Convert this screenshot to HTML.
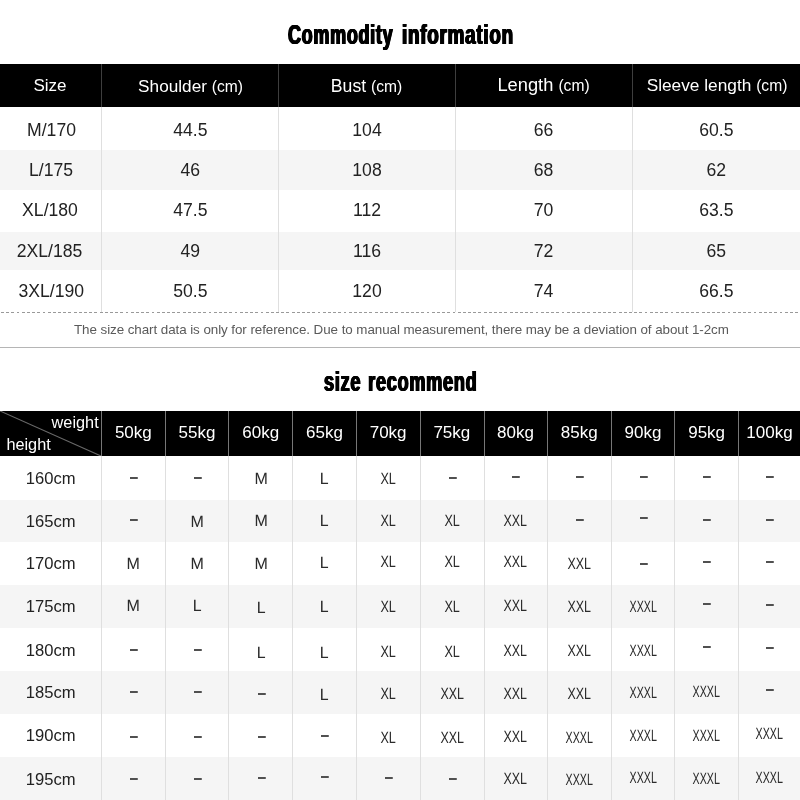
<!DOCTYPE html>
<html><head><meta charset="utf-8"><title>Size chart</title>
<style>
html,body{margin:0;padding:0;background:#fff;}
body{width:800px;height:800px;position:relative;overflow:hidden;font-family:"Liberation Sans",sans-serif;color:#222;}
.abs{position:absolute;}
.band{position:absolute;left:0;width:800px;background:#f5f5f5;}
.hdr{position:absolute;left:0;width:800px;background:#000;}
.vl{position:absolute;width:1px;background:#dfdfdf;}
.vlh{position:absolute;width:1px;background:#3e3e3e;}
.t{position:absolute;white-space:nowrap;text-align:center;width:200px;line-height:20px;height:20px;}
.title{position:absolute;white-space:nowrap;font-weight:bold;color:#000;line-height:1;transform-origin:0 0;letter-spacing:1.1px;text-shadow:0.5px 0 0 #000,-0.5px 0 0 #000,1px 0 0 #000,-1px 0 0 #000;}
.h1{font-size:17px;color:#fff;}
.h1 small{font-size:15.6px;}
.d1{font-size:17.6px;color:#222;}
.h2{font-size:16px;color:#fff;}
.d2{font-size:16px;color:#222;}
.c2{font-size:15px;color:#2b2b2b;}
.c2 span{display:inline-block;text-rendering:geometricPrecision;}
.c2 b{color:#505050;display:inline-block;transform:translateX(0.7px) scale(1.05,1.3);}
.note{position:absolute;left:74px;top:322px;font-size:13.4px;letter-spacing:-0.07px;color:#5a5a5a;white-space:nowrap;line-height:16px;}
#wrap{position:absolute;left:0;top:0;width:800px;height:800px;will-change:transform;}
</style></head><body><div id="wrap">

<div class="title" id="t1" style="left:288px;top:20.9px;font-size:27.8px;"><span style="display:inline-block;transform-origin:0 0;transform:scaleX(0.647);">Commodity</span> </div>
<div class="title" id="t1b" style="left:402.2px;top:20.9px;font-size:27.8px;transform:scaleX(0.678);">information</div>
<div class="title" id="t2" style="left:323.6px;top:368.3px;font-size:27.8px;word-spacing:2px;transform:scaleX(0.652);">size recommend</div>
<div class="hdr" style="top:64px;height:43px;"></div>
<div class="band" style="top:150px;height:40px;"></div>
<div class="band" style="top:232px;height:38px;"></div>
<div class="vlh" style="left:101px;top:64px;height:43px;"></div>
<div class="vl" style="left:101px;top:107px;height:205px;"></div>
<div class="vlh" style="left:278px;top:64px;height:43px;"></div>
<div class="vl" style="left:278px;top:107px;height:205px;"></div>
<div class="vlh" style="left:455px;top:64px;height:43px;"></div>
<div class="vl" style="left:455px;top:107px;height:205px;"></div>
<div class="vlh" style="left:632px;top:64px;height:43px;"></div>
<div class="vl" style="left:632px;top:107px;height:205px;"></div>
<div class="t h1" style="left:-50.00px;top:76.11px;font-size:17px;">Size</div>
<div class="t h1" style="left:90.50px;top:76.04px;font-size:17.2px;">Shoulder <small>(cm)</small></div>
<div class="t h1" style="left:266.50px;top:75.90px;font-size:17.6px;">Bust <small>(cm)</small></div>
<div class="t h1" style="left:443.50px;top:74.66px;font-size:18.3px;">Length <small>(cm)</small></div>
<div class="t h1" style="left:617.00px;top:75.01px;font-size:17.3px;">Sleeve length <small>(cm)</small></div>
<div class="t d1" style="left:-48.50px;top:119.90px;font-size:17.6px;">M/170</div>
<div class="t d1" style="left:90.30px;top:119.90px;font-size:17.6px;">44.5</div>
<div class="t d1" style="left:267.00px;top:119.90px;font-size:17.6px;">104</div>
<div class="t d1" style="left:443.50px;top:119.90px;font-size:17.6px;">66</div>
<div class="t d1" style="left:616.30px;top:119.90px;font-size:17.6px;">60.5</div>
<div class="t d1" style="left:-49.00px;top:159.90px;font-size:17.6px;">L/175</div>
<div class="t d1" style="left:90.30px;top:159.90px;font-size:17.6px;">46</div>
<div class="t d1" style="left:267.00px;top:159.90px;font-size:17.6px;">108</div>
<div class="t d1" style="left:443.50px;top:159.90px;font-size:17.6px;">68</div>
<div class="t d1" style="left:616.30px;top:159.90px;font-size:17.6px;">62</div>
<div class="t d1" style="left:-50.00px;top:199.90px;font-size:17.6px;">XL/180</div>
<div class="t d1" style="left:90.30px;top:199.90px;font-size:17.6px;">47.5</div>
<div class="t d1" style="left:267.00px;top:199.90px;font-size:17.6px;">112</div>
<div class="t d1" style="left:443.50px;top:199.90px;font-size:17.6px;">70</div>
<div class="t d1" style="left:616.30px;top:199.90px;font-size:17.6px;">63.5</div>
<div class="t d1" style="left:-50.50px;top:240.90px;font-size:17.6px;">2XL/185</div>
<div class="t d1" style="left:90.30px;top:240.90px;font-size:17.6px;">49</div>
<div class="t d1" style="left:267.00px;top:240.90px;font-size:17.6px;">116</div>
<div class="t d1" style="left:443.50px;top:240.90px;font-size:17.6px;">72</div>
<div class="t d1" style="left:616.30px;top:240.90px;font-size:17.6px;">65</div>
<div class="t d1" style="left:-48.75px;top:280.90px;font-size:17.6px;">3XL/190</div>
<div class="t d1" style="left:90.30px;top:280.90px;font-size:17.6px;">50.5</div>
<div class="t d1" style="left:267.00px;top:280.90px;font-size:17.6px;">120</div>
<div class="t d1" style="left:443.50px;top:280.90px;font-size:17.6px;">74</div>
<div class="t d1" style="left:616.30px;top:280.90px;font-size:17.6px;">66.5</div>
<div class="abs" style="left:0;top:312px;width:800px;height:1px;background:repeating-linear-gradient(90deg,transparent 0,transparent 1px,#999 1px,#999 3.9px,transparent 3.9px,transparent 5.19px);"></div>
<div class="note">The size chart data is only for reference. Due to manual measurement, there may be a deviation of about 1-2cm</div>
<div class="abs" style="left:0;top:347px;width:800px;height:1px;background:#b5b5b5;"></div>
<div class="hdr" style="top:411px;height:45px;"></div>
<svg class="abs" style="left:0;top:411px;" width="102" height="45"><line x1="0" y1="0" x2="101" y2="45" stroke="#6a6a6a" stroke-width="1.1"/></svg>
<div class="abs h2" style="left:51.6px;top:412.35px;line-height:20px;font-size:16.3px;">weight</div>
<div class="abs h2" style="left:6.4px;top:434.35px;line-height:20px;font-size:16.3px;">height</div>
<div class="band" style="top:500px;height:42px;"></div>
<div class="band" style="top:585px;height:43px;"></div>
<div class="band" style="top:671px;height:43px;"></div>
<div class="band" style="top:757px;height:43px;"></div>
<div class="vlh" style="left:101px;top:411px;height:45px;background:#777;"></div>
<div class="vl" style="left:101px;top:456px;height:344px;"></div>
<div class="vlh" style="left:165px;top:411px;height:45px;background:#777;"></div>
<div class="vl" style="left:165px;top:456px;height:344px;"></div>
<div class="vlh" style="left:228px;top:411px;height:45px;background:#777;"></div>
<div class="vl" style="left:228px;top:456px;height:344px;"></div>
<div class="vlh" style="left:292px;top:411px;height:45px;background:#777;"></div>
<div class="vl" style="left:292px;top:456px;height:344px;"></div>
<div class="vlh" style="left:356px;top:411px;height:45px;background:#777;"></div>
<div class="vl" style="left:356px;top:456px;height:344px;"></div>
<div class="vlh" style="left:420px;top:411px;height:45px;background:#777;"></div>
<div class="vl" style="left:420px;top:456px;height:344px;"></div>
<div class="vlh" style="left:484px;top:411px;height:45px;background:#777;"></div>
<div class="vl" style="left:484px;top:456px;height:344px;"></div>
<div class="vlh" style="left:547px;top:411px;height:45px;background:#777;"></div>
<div class="vl" style="left:547px;top:456px;height:344px;"></div>
<div class="vlh" style="left:611px;top:411px;height:45px;background:#777;"></div>
<div class="vl" style="left:611px;top:456px;height:344px;"></div>
<div class="vlh" style="left:674px;top:411px;height:45px;background:#777;"></div>
<div class="vl" style="left:674px;top:456px;height:344px;"></div>
<div class="vlh" style="left:738px;top:411px;height:45px;background:#777;"></div>
<div class="vl" style="left:738px;top:456px;height:344px;"></div>
<div class="t h2" style="left:33.35px;top:423.11px;font-size:17px;">50kg</div>
<div class="t h2" style="left:97.05px;top:423.11px;font-size:17px;">55kg</div>
<div class="t h2" style="left:160.75px;top:423.11px;font-size:17px;">60kg</div>
<div class="t h2" style="left:224.45px;top:423.11px;font-size:17px;">65kg</div>
<div class="t h2" style="left:288.15px;top:423.11px;font-size:17px;">70kg</div>
<div class="t h2" style="left:351.85px;top:423.11px;font-size:17px;">75kg</div>
<div class="t h2" style="left:415.55px;top:423.11px;font-size:17px;">80kg</div>
<div class="t h2" style="left:479.25px;top:423.11px;font-size:17px;">85kg</div>
<div class="t h2" style="left:542.95px;top:423.11px;font-size:17px;">90kg</div>
<div class="t h2" style="left:606.65px;top:423.11px;font-size:17px;">95kg</div>
<div class="t h2" style="left:669.50px;top:423.11px;font-size:17px;">100kg</div>
<div class="t d2" style="left:-49.30px;top:469.25px;font-size:16.6px;">160cm</div>
<div class="t c2" style="left:33.35px;top:465.80px;font-size:15px;"><b>–</b></div>
<div class="t c2" style="left:97.05px;top:465.80px;font-size:15px;"><b>–</b></div>
<div class="t c2" style="left:160.75px;top:468.80px;font-size:15px;"><span style="transform:translateY(-0.02px) scale(1.07,1.08);">M</span></div>
<div class="t c2" style="left:224.45px;top:468.80px;font-size:15px;"><span style="transform:translateY(-0.02px) scale(1.06,1.08);">L</span></div>
<div class="t c2" style="left:288.15px;top:468.80px;font-size:15px;"><span style="transform:translateY(-0.02px) scale(0.84,1.08);">XL</span></div>
<div class="t c2" style="left:351.85px;top:465.80px;font-size:15px;"><b>–</b></div>
<div class="t c2" style="left:415.55px;top:464.80px;font-size:15px;"><b>–</b></div>
<div class="t c2" style="left:479.25px;top:464.80px;font-size:15px;"><b>–</b></div>
<div class="t c2" style="left:542.95px;top:464.80px;font-size:15px;"><b>–</b></div>
<div class="t c2" style="left:606.65px;top:464.80px;font-size:15px;"><b>–</b></div>
<div class="t c2" style="left:669.50px;top:464.80px;font-size:15px;"><b>–</b></div>
<div class="t d2" style="left:-49.30px;top:512.25px;font-size:16.6px;">165cm</div>
<div class="t c2" style="left:33.35px;top:507.80px;font-size:15px;"><b>–</b></div>
<div class="t c2" style="left:97.05px;top:511.80px;font-size:15px;"><span style="transform:translateY(-0.82px) scale(1.07,1.08);">M</span></div>
<div class="t c2" style="left:160.75px;top:510.80px;font-size:15px;"><span style="transform:translateY(-0.82px) scale(1.07,1.08);">M</span></div>
<div class="t c2" style="left:224.45px;top:510.80px;font-size:15px;"><span style="transform:translateY(-0.82px) scale(1.06,1.08);">L</span></div>
<div class="t c2" style="left:288.15px;top:510.80px;font-size:15px;"><span style="transform:translateY(-0.82px) scale(0.84,1.08);">XL</span></div>
<div class="t c2" style="left:351.85px;top:510.80px;font-size:15px;"><span style="transform:translateY(-0.12px) scale(0.84,1.08);">XL</span></div>
<div class="t c2" style="left:415.55px;top:510.80px;font-size:15px;"><span style="transform:translateY(-0.42px) scale(0.83,1.08);">XXL</span></div>
<div class="t c2" style="left:479.25px;top:507.80px;font-size:15px;"><b>–</b></div>
<div class="t c2" style="left:542.95px;top:505.80px;font-size:15px;"><b>–</b></div>
<div class="t c2" style="left:606.65px;top:507.80px;font-size:15px;"><b>–</b></div>
<div class="t c2" style="left:669.50px;top:507.80px;font-size:15px;"><b>–</b></div>
<div class="t d2" style="left:-49.30px;top:554.25px;font-size:16.6px;">170cm</div>
<div class="t c2" style="left:33.35px;top:553.80px;font-size:15px;"><span style="transform:translateY(-0.32px) scale(1.07,1.08);">M</span></div>
<div class="t c2" style="left:97.05px;top:553.80px;font-size:15px;"><span style="transform:translateY(-0.32px) scale(1.07,1.08);">M</span></div>
<div class="t c2" style="left:160.75px;top:553.80px;font-size:15px;"><span style="transform:translateY(-0.02px) scale(1.07,1.08);">M</span></div>
<div class="t c2" style="left:224.45px;top:552.80px;font-size:15px;"><span style="transform:translateY(-0.02px) scale(1.06,1.08);">L</span></div>
<div class="t c2" style="left:288.15px;top:551.80px;font-size:15px;"><span style="transform:translateY(-0.02px) scale(0.84,1.08);">XL</span></div>
<div class="t c2" style="left:351.85px;top:551.80px;font-size:15px;"><span style="transform:translateY(-0.02px) scale(0.84,1.08);">XL</span></div>
<div class="t c2" style="left:415.55px;top:551.80px;font-size:15px;"><span style="transform:translateY(-0.22px) scale(0.83,1.08);">XXL</span></div>
<div class="t c2" style="left:479.25px;top:553.80px;font-size:15px;"><span style="transform:translateY(-0.22px) scale(0.83,1.08);">XXL</span></div>
<div class="t c2" style="left:542.95px;top:551.80px;font-size:15px;"><b>–</b></div>
<div class="t c2" style="left:606.65px;top:549.80px;font-size:15px;"><b>–</b></div>
<div class="t c2" style="left:669.50px;top:549.80px;font-size:15px;"><b>–</b></div>
<div class="t d2" style="left:-49.30px;top:597.25px;font-size:16.6px;">175cm</div>
<div class="t c2" style="left:33.35px;top:595.80px;font-size:15px;"><span style="transform:translateY(-0.12px) scale(1.07,1.08);">M</span></div>
<div class="t c2" style="left:97.05px;top:595.80px;font-size:15px;"><span style="transform:translateY(-0.12px) scale(1.06,1.08);">L</span></div>
<div class="t c2" style="left:160.75px;top:597.80px;font-size:15px;"><span style="transform:translateY(-0.32px) scale(1.06,1.08);">L</span></div>
<div class="t c2" style="left:224.45px;top:596.80px;font-size:15px;"><span style="transform:translateY(-0.82px) scale(1.06,1.08);">L</span></div>
<div class="t c2" style="left:288.15px;top:596.80px;font-size:15px;"><span style="transform:translateY(-0.12px) scale(0.84,1.08);">XL</span></div>
<div class="t c2" style="left:351.85px;top:596.80px;font-size:15px;"><span style="transform:translateY(-0.12px) scale(0.84,1.08);">XL</span></div>
<div class="t c2" style="left:415.55px;top:595.80px;font-size:15px;"><span style="transform:translateY(-0.22px) scale(0.83,1.08);">XXL</span></div>
<div class="t c2" style="left:479.25px;top:596.80px;font-size:15px;"><span style="transform:translateY(-0.42px) scale(0.83,1.08);">XXL</span></div>
<div class="t c2" style="left:542.95px;top:596.80px;font-size:15px;"><span style="transform:translateY(-0.42px) scale(0.714,1.08);">XXXL</span></div>
<div class="t c2" style="left:606.65px;top:591.80px;font-size:15px;"><b>–</b></div>
<div class="t c2" style="left:669.50px;top:592.80px;font-size:15px;"><b>–</b></div>
<div class="t d2" style="left:-49.30px;top:641.25px;font-size:16.6px;">180cm</div>
<div class="t c2" style="left:33.35px;top:637.80px;font-size:15px;"><b>–</b></div>
<div class="t c2" style="left:97.05px;top:637.80px;font-size:15px;"><b>–</b></div>
<div class="t c2" style="left:160.75px;top:642.80px;font-size:15px;"><span style="transform:translateY(-0.02px) scale(1.06,1.08);">L</span></div>
<div class="t c2" style="left:224.45px;top:642.80px;font-size:15px;"><span style="transform:translateY(-0.02px) scale(1.06,1.08);">L</span></div>
<div class="t c2" style="left:288.15px;top:641.80px;font-size:15px;"><span style="transform:translateY(-0.72px) scale(0.84,1.08);">XL</span></div>
<div class="t c2" style="left:351.85px;top:641.80px;font-size:15px;"><span style="transform:translateY(-0.72px) scale(0.84,1.08);">XL</span></div>
<div class="t c2" style="left:415.55px;top:640.80px;font-size:15px;"><span style="transform:translateY(-0.82px) scale(0.83,1.08);">XXL</span></div>
<div class="t c2" style="left:479.25px;top:640.80px;font-size:15px;"><span style="transform:translateY(-0.82px) scale(0.83,1.08);">XXL</span></div>
<div class="t c2" style="left:542.95px;top:640.80px;font-size:15px;"><span style="transform:translateY(-0.82px) scale(0.714,1.08);">XXXL</span></div>
<div class="t c2" style="left:606.65px;top:634.80px;font-size:15px;"><b>–</b></div>
<div class="t c2" style="left:669.50px;top:635.80px;font-size:15px;"><b>–</b></div>
<div class="t d2" style="left:-49.30px;top:683.25px;font-size:16.6px;">185cm</div>
<div class="t c2" style="left:33.35px;top:679.80px;font-size:15px;"><b>–</b></div>
<div class="t c2" style="left:97.05px;top:679.80px;font-size:15px;"><b>–</b></div>
<div class="t c2" style="left:160.75px;top:681.80px;font-size:15px;"><b>–</b></div>
<div class="t c2" style="left:224.45px;top:684.80px;font-size:15px;"><span style="transform:translateY(-0.52px) scale(1.06,1.08);">L</span></div>
<div class="t c2" style="left:288.15px;top:683.80px;font-size:15px;"><span style="transform:translateY(-0.52px) scale(0.84,1.08);">XL</span></div>
<div class="t c2" style="left:351.85px;top:683.80px;font-size:15px;"><span style="transform:translateY(-0.52px) scale(0.83,1.08);">XXL</span></div>
<div class="t c2" style="left:415.55px;top:683.80px;font-size:15px;"><span style="transform:translateY(-0.22px) scale(0.83,1.08);">XXL</span></div>
<div class="t c2" style="left:479.25px;top:683.80px;font-size:15px;"><span style="transform:translateY(-0.22px) scale(0.83,1.08);">XXL</span></div>
<div class="t c2" style="left:542.95px;top:682.80px;font-size:15px;"><span style="transform:translateY(-0.42px) scale(0.714,1.08);">XXXL</span></div>
<div class="t c2" style="left:606.65px;top:681.80px;font-size:15px;"><span style="transform:translateY(-0.62px) scale(0.714,1.08);">XXXL</span></div>
<div class="t c2" style="left:669.50px;top:677.80px;font-size:15px;"><b>–</b></div>
<div class="t d2" style="left:-49.30px;top:726.25px;font-size:16.6px;">190cm</div>
<div class="t c2" style="left:33.35px;top:724.80px;font-size:15px;"><b>–</b></div>
<div class="t c2" style="left:97.05px;top:724.80px;font-size:15px;"><b>–</b></div>
<div class="t c2" style="left:160.75px;top:724.80px;font-size:15px;"><b>–</b></div>
<div class="t c2" style="left:224.45px;top:723.80px;font-size:15px;"><b>–</b></div>
<div class="t c2" style="left:288.15px;top:727.80px;font-size:15px;"><span style="transform:translateY(-0.72px) scale(0.84,1.08);">XL</span></div>
<div class="t c2" style="left:351.85px;top:727.80px;font-size:15px;"><span style="transform:translateY(-0.72px) scale(0.83,1.08);">XXL</span></div>
<div class="t c2" style="left:415.55px;top:726.80px;font-size:15px;"><span style="transform:translateY(-0.82px) scale(0.83,1.08);">XXL</span></div>
<div class="t c2" style="left:479.25px;top:727.80px;font-size:15px;"><span style="transform:translateY(-0.22px) scale(0.714,1.08);">XXXL</span></div>
<div class="t c2" style="left:542.95px;top:725.80px;font-size:15px;"><span style="transform:translateY(-0.62px) scale(0.714,1.08);">XXXL</span></div>
<div class="t c2" style="left:606.65px;top:725.80px;font-size:15px;"><span style="transform:translateY(-0.62px) scale(0.714,1.08);">XXXL</span></div>
<div class="t c2" style="left:669.50px;top:723.80px;font-size:15px;"><span style="transform:translateY(-0.22px) scale(0.714,1.08);">XXXL</span></div>
<div class="t d2" style="left:-49.30px;top:770.25px;font-size:16.6px;">195cm</div>
<div class="t c2" style="left:33.35px;top:766.80px;font-size:15px;"><b>–</b></div>
<div class="t c2" style="left:97.05px;top:766.80px;font-size:15px;"><b>–</b></div>
<div class="t c2" style="left:160.75px;top:765.80px;font-size:15px;"><b>–</b></div>
<div class="t c2" style="left:224.45px;top:764.80px;font-size:15px;"><b>–</b></div>
<div class="t c2" style="left:288.15px;top:765.80px;font-size:15px;"><b>–</b></div>
<div class="t c2" style="left:351.85px;top:766.80px;font-size:15px;"><b>–</b></div>
<div class="t c2" style="left:415.55px;top:768.80px;font-size:15px;"><span style="transform:translateY(-0.42px) scale(0.83,1.08);">XXL</span></div>
<div class="t c2" style="left:479.25px;top:769.80px;font-size:15px;"><span style="transform:translateY(-0.22px) scale(0.714,1.08);">XXXL</span></div>
<div class="t c2" style="left:542.95px;top:767.80px;font-size:15px;"><span style="transform:translateY(-0.62px) scale(0.714,1.08);">XXXL</span></div>
<div class="t c2" style="left:606.65px;top:768.80px;font-size:15px;"><span style="transform:translateY(-0.42px) scale(0.714,1.08);">XXXL</span></div>
<div class="t c2" style="left:669.50px;top:767.80px;font-size:15px;"><span style="transform:translateY(-0.62px) scale(0.714,1.08);">XXXL</span></div>
</div></body></html>
